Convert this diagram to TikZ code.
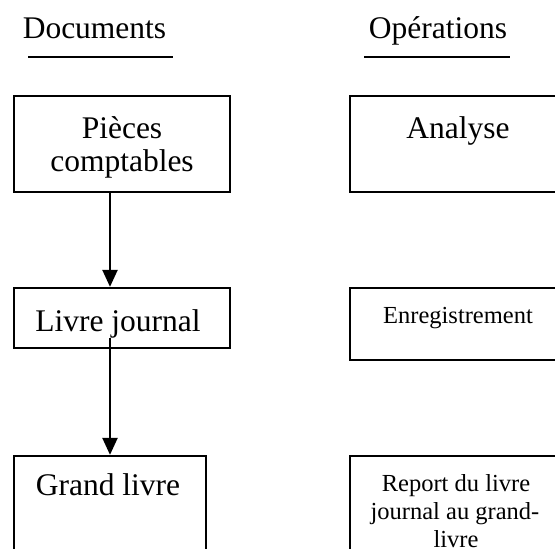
\documentclass[tikz,border=0pt]{standalone}
\usepackage{fontspec}
\setmainfont{Liberation Serif}
\usetikzlibrary{arrows.meta,calc}

\tikzset{
  frame/.style={draw=black, line width=2.3pt, rectangle, inner sep=0pt},
  bigtxt/.style={anchor=base, inner sep=0pt, font=\fontsize{31.5}{36}\selectfont},
  smalltxt/.style={anchor=base, inner sep=0pt, font=\fontsize{24.5}{28}\selectfont},
  rule/.style={line width=2.3pt},
  flow/.style={line width=2.3pt, -{Triangle[length=17pt,width=15pt]}}
}

\begin{document}
\begin{tikzpicture}[x=1pt,y=-1pt]
  \path[use as bounding box] (0,0) rectangle (555,549);
  \clip (0,0) rectangle (555,549);

  % column headings
  \node[bigtxt] (hdoc) at (94.5,38) {Documents};
  \node[bigtxt] (hops) at (438,38) {Opérations};
  \coordinate (docL) at (28,57);  \coordinate (docR) at (173,57);
  \coordinate (opsL) at (364,57); \coordinate (opsR) at (510,57);
  \draw[rule] (docL) -- (docR);
  \draw[rule] (opsL) -- (opsR);

  % documents column
  \node[frame, minimum width=216pt, minimum height=96pt] (pc) at (122,144) {};
  \node[bigtxt] (pc1) at (122,138) {Pièces};
  \node[bigtxt] (pc2) at (122,171) {comptables};

  \node[frame, minimum width=216pt, minimum height=60pt] (lj) at (122,318) {};
  \node[bigtxt] (ljt) at (118,331) {Livre journal};

  \node[frame, minimum width=192pt, minimum height=160pt] (gl) at (110,536) {};
  \node[bigtxt] (glt) at (108,495) {Grand livre};

  % operations column
  \node[frame, minimum width=216pt, minimum height=96pt] (an) at (458,144) {};
  \node[bigtxt] (ant) at (458,138) {Analyse};

  \node[frame, minimum width=216pt, minimum height=72pt] (en) at (458,324) {};
  \node[smalltxt] (ent) at (458,323) {Enregistrement};

  \node[frame, minimum width=216pt, minimum height=160pt] (rp) at (458,536) {};
  \node[smalltxt] (rp1) at (456,491) {Report du livre};
  \node[smalltxt] (rp2) at (455,519) {journal au grand-};
  \node[smalltxt] (rp3) at (456,547) {livre};

  % flow between documents
  \coordinate (ax) at (110,0);
  \draw[flow] (pc.south -| ax) -- (lj.north -| ax);
  \draw[flow] ($(lj.south -| ax)+(0,-11)$) -- (gl.north -| ax);
\end{tikzpicture}
\end{document}
